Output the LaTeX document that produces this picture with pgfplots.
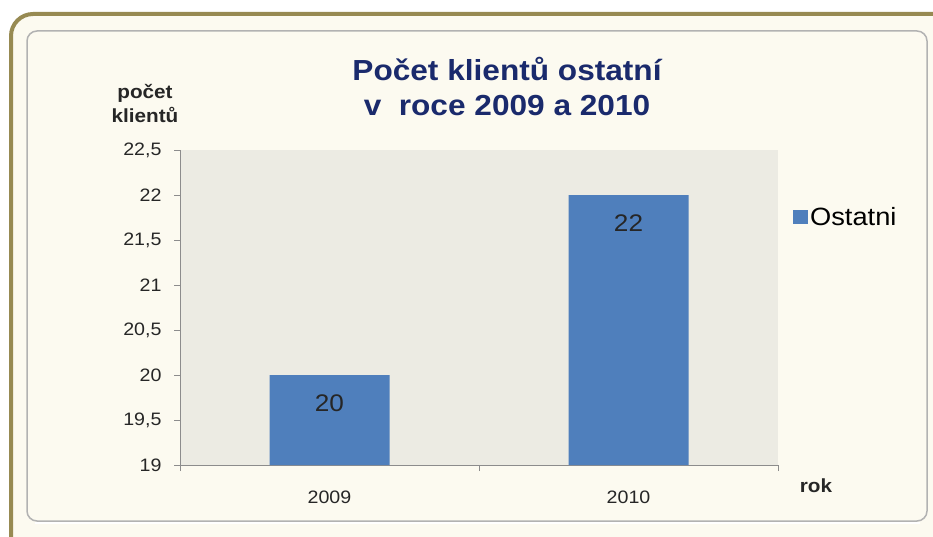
\documentclass[border=0pt]{standalone}
\usepackage{pgfplots}
\pgfplotsset{compat=1.18}
\usepackage{graphicx}
\usepackage{fontspec}
\setmainfont{Liberation Sans}
\definecolor{cream}{HTML}{FCFAF0}
\definecolor{olive}{HTML}{978A52}
\definecolor{plotbg}{HTML}{ECEBE3}
\definecolor{barblue}{HTML}{4F7FBC}
\definecolor{navy}{HTML}{1A2A6C}
\definecolor{txt}{HTML}{262626}
\newcommand{\sx}[1]{\scalebox{1.09}[1]{#1}}
\begin{document}
\begin{tikzpicture}[x=1pt,y=1pt]
\clip (0,0) rectangle (933,536);
\fill[white] (0,0) rectangle (933,536);
\draw[olive, line width=4pt, fill=cream, rounded corners=22pt] (11,522) rectangle (960,-30);
\draw[black!30, line width=1.5pt, rounded corners=10pt] (27,15) rectangle (927,505);
\draw[white, line width=2pt] (35,13) -- (920,13);
\node[font=\bfseries\fontsize{29}{35}\selectfont, text=navy, align=center] at (507,449) {\sx{Počet klientů ostatní}\\\sx{v\ \ roce 2009 a 2010}};
\node[font=\bfseries\fontsize{19}{24}\selectfont, text=txt, align=center] at (145,432) {\sx{počet}\\\sx{klientů}};
\node[font=\bfseries\fontsize{19}{22}\selectfont, text=txt] at (816,50) {\sx{rok}};
\begin{axis}[
  at={(180pt,71pt)}, anchor=south west,
  width=598pt, height=315pt, scale only axis,
  ymin=19, ymax=22.5,
  ytick={19,19.5,20,20.5,21,21.5,22,22.5},
  yticklabel={\sx{\pgfmathprintnumber{\tick}}},
  xmin=-0.5, xmax=1.5,
  xtick={0,1}, xticklabels={\sx{2009},\sx{2010}},
  minor xtick={-0.5,0.5,1.5},
  major x tick style={draw=none},
  axis x line*=bottom, axis y line*=left,
  axis line style={black!45, line width=1pt},
  tick style={black!45, line width=0.8pt},
  tick align=outside,
  major tick length=6pt, minor tick length=6pt,
  axis background/.style={fill=plotbg},
  /pgf/number format/use comma,
  /pgf/number format/assume math mode=true,
  yticklabel style={font=\fontsize{18}{20}\selectfont, text=txt, xshift=-9pt},
  xticklabel style={font=\fontsize{18}{20}\selectfont, text=txt, yshift=-16pt},
  ybar, bar width=120pt,
  nodes near coords={\sx{\pgfmathprintnumber{\pgfplotspointmeta}}},
  every node near coord/.append style={font=\fontsize{24}{28}\selectfont, text=txt, anchor=center, yshift=-28pt},
  legend style={at={(1.025,0.787)}, anchor=west, draw=none, fill=none, font=\fontsize{25}{28}\selectfont, inner sep=0pt},
  legend image code/.code={\fill[barblue] (1pt,-7pt) rectangle (16pt,7pt);},
]
\addplot[fill=barblue, draw=none] coordinates {(0,20) (1,22)};
\addlegendentry{\sx{Ostatni}}
\end{axis}
\end{tikzpicture}
\end{document}
